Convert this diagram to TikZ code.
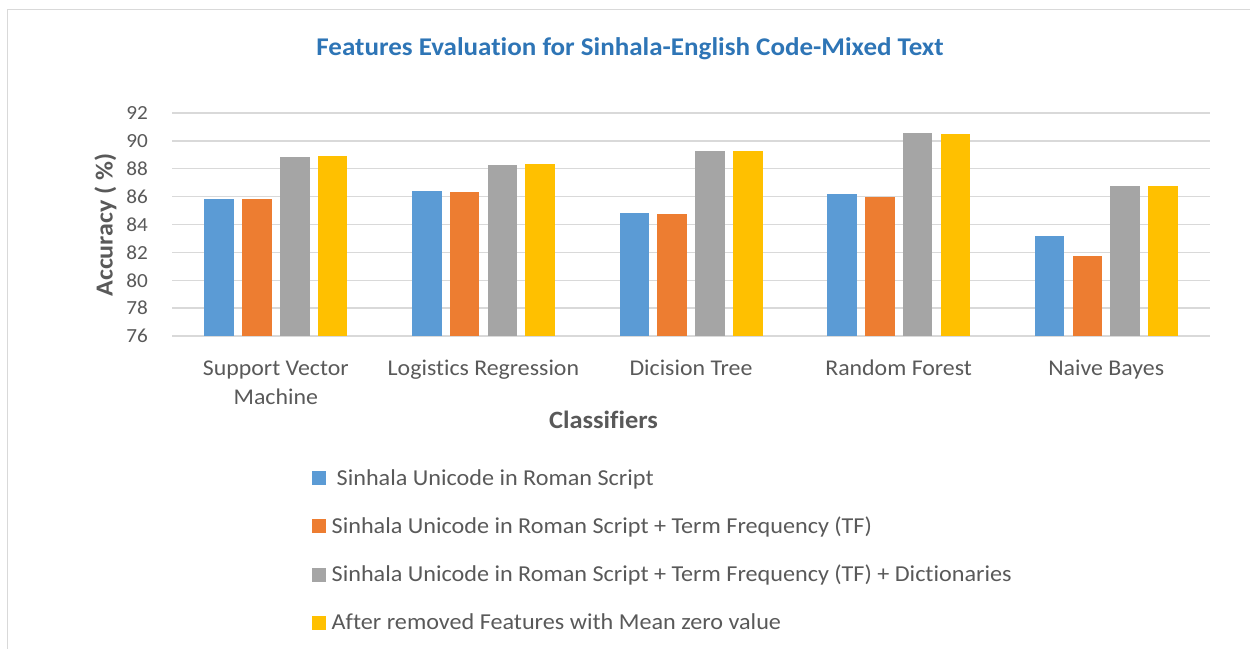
\documentclass[tikz,border=0pt]{standalone}
\usepackage{graphicx}
\usepackage{fontspec}
\setmainfont{Carlito}[Ligatures=CommonOff]
\definecolor{sblue}{HTML}{5B9BD5}
\definecolor{sorange}{HTML}{ED7D31}
\definecolor{sgray}{HTML}{A5A5A5}
\definecolor{syellow}{HTML}{FFC000}
\definecolor{titleblue}{HTML}{2E75B6}
\definecolor{txt}{HTML}{595959}
\definecolor{gridc}{HTML}{D9D9D9}
\newcommand\hs[1]{\scalebox{1.06}[1]{#1}}
\begin{document}
\begin{tikzpicture}[x=1pt,y=-1pt,
  gridline/.style={draw=gridc,line width=1.4pt},
  frame/.style={draw=gridc,line width=1.5pt},
  ticklabel/.style={text=txt,font=\fontsize{20}{24}\selectfont,inner sep=0pt,anchor=east},
  catlabel/.style={text=txt,font=\fontsize{22.5}{27}\selectfont,inner sep=0pt,anchor=base},
  axistitle/.style={text=txt,font=\bfseries\fontsize{24.9}{29}\selectfont,inner sep=0pt,anchor=base},
  charttitle/.style={text=titleblue,font=\bfseries\fontsize{25.5}{30}\selectfont,inner sep=0pt,anchor=base},
  legtext/.style={text=txt,font=\fontsize{22.8}{27}\selectfont,inner sep=0pt,anchor=base west},
  legkey/.style={minimum width=14pt,minimum height=14pt,inner sep=0pt,anchor=north west}]
\useasboundingbox (0,0) rectangle (1250,648);
% outer frame (right and bottom edges lie outside the picture)
\draw[frame] (7.5,660) -- (7.5,9.5) -- (1260,9.5);
% title
\node[charttitle] (title) at (630,55) {\hs{Features Evaluation for Sinhala-English Code-Mixed Text}};
% gridlines and tick labels
\foreach \k in {0,...,8}{
  \draw[gridline] (172,{336-\k*27.875}) -- (1210,{336-\k*27.875});
  \pgfmathtruncatemacro{\lab}{76+2*\k}
  \node[ticklabel] (tick\k) at (148,{336-\k*27.875}) {\hs{\lab}};
}
% bars
\foreach \g/\a/\b/\c/\d in {0/85.85/85.8/88.87/88.9, 1/86.42/86.35/88.3/88.32, 2/84.85/84.73/89.3/89.27, 3/86.2/86.0/90.53/90.49, 4/83.15/81.74/86.78/86.78}{
  \foreach \i/\v/\col in {0/\a/sblue, 1/\b/sorange, 2/\c/sgray, 3/\d/syellow}{
    \fill[\col] ({204.3+207.6*\g+37.8*\i},335.5) rectangle ++(29.6,{-(\v-76)*13.94+0.5});
  }
}
% category labels
\node[catlabel] (c1a) at (275.8,375) {\hs{Support Vector}};
\node[catlabel] (c1b) at (275.8,404) {\hs{Machine}};
\node[catlabel] (c2) at (483.4,375) {\hs{Logistics Regression}};
\node[catlabel] (c3) at (691,375) {\hs{Dicision Tree}};
\node[catlabel] (c4) at (898.6,375) {\hs{Random Forest}};
\node[catlabel] (c5) at (1106.2,375) {\hs{Naive Bayes}};
% axis titles
\node[axistitle] (xt) at (603.5,428) {\hs{Classifiers}};
\node[axistitle,rotate=90,font=\bfseries\fontsize{24.5}{29}\selectfont] (yt) at (112.5,225) {\hs{Accuracy ( \%)}};
% legend
\node[legkey,fill=sblue] (k1) at (312,470.7) {};
\node[legtext] (l1) at (336.5,485) {\hs{Sinhala Unicode in Roman Script}};
\node[legkey,fill=sorange] (k2) at (312,519) {};
\node[legtext] (l2) at (331.5,533) {\hs{Sinhala Unicode in Roman Script + Term Frequency (TF)}};
\node[legkey,fill=sgray] (k3) at (312,567.3) {};
\node[legtext] (l3) at (331.5,581.3) {\hs{Sinhala Unicode in Roman Script + Term Frequency (TF) + Dictionaries}};
\node[legkey,fill=syellow] (k4) at (312,615.3) {};
\node[legtext] (l4) at (331.5,629.3) {\hs{After removed Features with Mean zero value}};
\end{tikzpicture}
\end{document}
